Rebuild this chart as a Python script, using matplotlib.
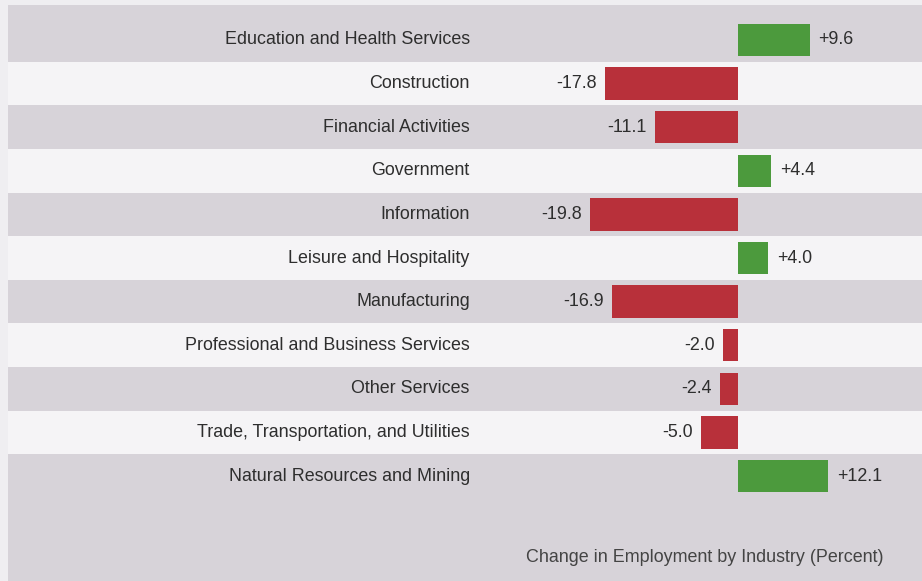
import matplotlib.pyplot as plt
import matplotlib as mpl

mpl.rcParams['font.family'] = ['Liberation Sans', 'DejaVu Sans']

industries = ['Education and Health Services', 'Construction', 'Financial Activities',
              'Government', 'Information', 'Leisure and Hospitality', 'Manufacturing',
              'Professional and Business Services', 'Other Services',
              'Trade, Transportation, and Utilities', 'Natural Resources and Mining']
change = [9.6, -17.8, -11.1, 4.4, -19.8, 4.0, -16.9, -2.0, -2.4, -5.0, 12.1]
title = 'Change in Employment by Industry (Percent)'

GREEN = '#4c9a3d'
RED = '#b8303a'
BAND_DARK = '#d7d3d9'
BAND_LIGHT = '#f5f4f6'
TEXT = '#2e2e2e'


def main():
    fig = plt.figure(figsize=(9.22, 5.81), dpi=100)
    fig.patch.set_facecolor('#efeef1')
    # axes runs from the left margin to the right edge, bottom of the page
    ax = fig.add_axes([8 / 922, 0, 914 / 922, 576 / 581])
    ax.set_facecolor(BAND_DARK)

    px = 7.45  # pixels per percent
    ax.set_xlim(-730 / px, 184 / px)
    ax.set_ylim(541 / 43.6, -35 / 43.6)

    n = len(industries)
    for i in range(n):
        if i % 2 == 1:
            ax.axhspan(i - 0.5, i + 0.5, color=BAND_LIGHT, lw=0, zorder=0)

    colors = [GREEN if v > 0 else RED for v in change]
    ax.barh(range(n), change, height=0.74, color=colors, zorder=2)

    fs = 12.9
    for i, (name, v) in enumerate(zip(industries, change)):
        ax.text(-36.0, i, name, ha='right', va='center', fontsize=fs, color=TEXT)
        if v > 0:
            ax.text(v + 1.2, i, '+%.1f' % v, ha='left', va='center',
                    fontsize=fs, color=TEXT)
        else:
            ax.text(v - 1.1, i, '%.1f' % v, ha='right', va='center',
                    fontsize=fs, color=TEXT)

    ax.text(19.5, 11.88, title, ha='right', va='center', fontsize=fs, color='#444444')

    for s in ax.spines.values():
        s.set_visible(False)
    ax.set_xticks([])
    ax.set_yticks([])

    fig.savefig('out.png', dpi=100, facecolor=fig.get_facecolor())


if __name__ == "__main__":
    main()
